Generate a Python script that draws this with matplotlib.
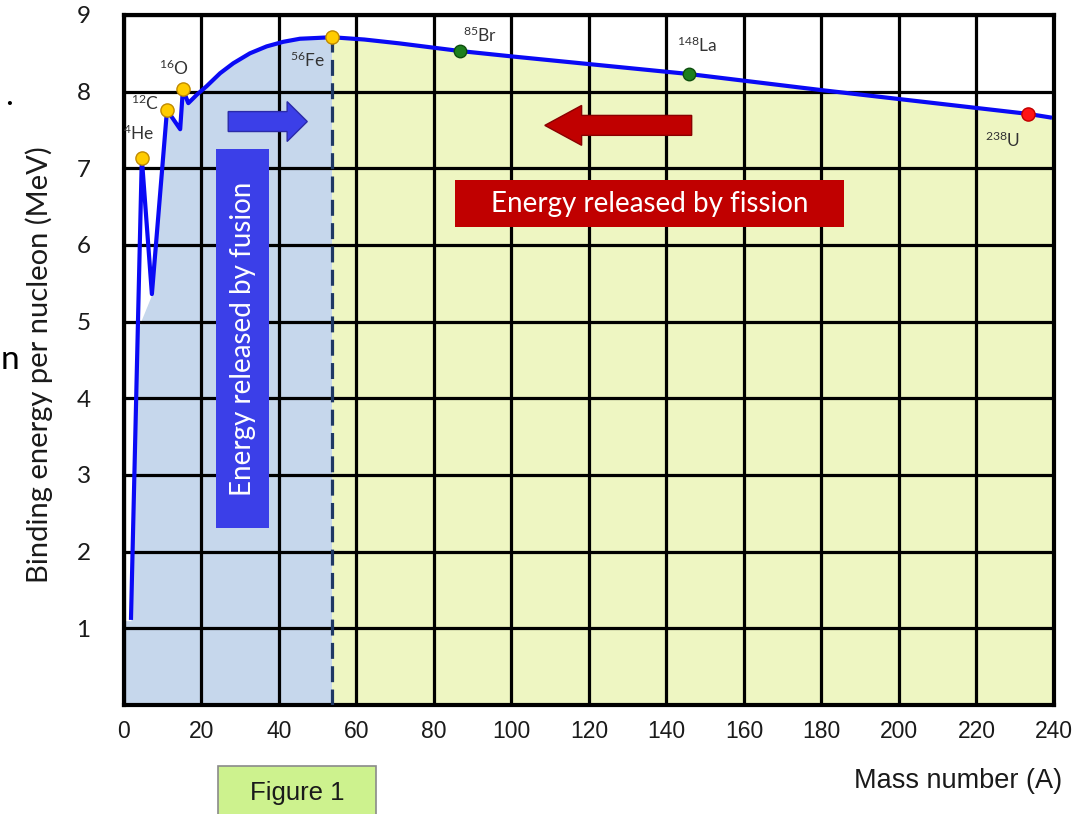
import matplotlib
matplotlib.use("Agg")
import matplotlib.pyplot as plt
from matplotlib.patches import Rectangle, FancyArrow

plt.rcParams['font.family'] = ['Lato', 'DejaVu Sans']
plt.rcParams['mathtext.fontset'] = 'custom'
plt.rcParams['mathtext.rm'] = 'Lato'
plt.rcParams['mathtext.default'] = 'regular'

# --- DATA ---
mass_number = [1.8, 4.6, 7.2, 11.1, 14.5, 15.2, 16.6, 18.8, 21.3, 24.8, 28.2, 32.5,
               36.8, 41.1, 45.4, 49.7, 53.6, 62, 71, 86.7, 100, 145.8, 180, 233.3, 239.5]
binding_energy = [1.11, 7.13, 5.36, 7.76, 7.51, 8.03, 7.85, 7.96, 8.07, 8.24, 8.37, 8.50,
                  8.59, 8.65, 8.69, 8.70, 8.71, 8.68, 8.63, 8.53, 8.46, 8.23, 8.02, 7.71, 7.66]

# outline of the shaded fusion area (the He spike is left white)
fusion_fill_x = [0, 1.8, 3.5, 7.2]
fusion_fill_y = [1.1, 1.1, 4.9, 5.36]

iron_a = 53.6
light_names = ["$^{4}$He", "$^{12}$C", "$^{16}$O", "$^{56}$Fe"]
light_a = [4.6, 11.1, 15.2, 53.6]
light_be = [7.13, 7.76, 8.03, 8.71]
light_label_xy = [(3.9, 7.46), (5.4, 7.85), (12.9, 8.31), (47.3, 8.41)]

mid_names = ["$^{85}$Br", "$^{148}$La"]
mid_a = [86.7, 145.8]
mid_be = [8.53, 8.23]
mid_label_xy = [(91.9, 8.73), (147.8, 8.61)]

heavy_names = ["$^{238}$U"]
heavy_a = [233.3]
heavy_be = [7.71]
heavy_label_xy = [(226.8, 7.36)]

x_ticks = list(range(0, 241, 20))
y_ticks = list(range(1, 10))

# --- FIGURE ---
fig = plt.figure(figsize=(10.81, 8.14), dpi=100)
ax = fig.add_axes([0.1147, 0.1339, 0.8603, 0.8477])
ax.set_xlim(0, 240)
ax.set_ylim(0, 9)

# shaded areas under the curve
i_fe = mass_number.index(iron_a)
fx = fusion_fill_x + mass_number[3:i_fe + 1]
fy = fusion_fill_y + binding_energy[3:i_fe + 1]
ax.fill_between(fx, fy, 0, color="#c6d7ec", lw=0, zorder=0.5)
ax.fill_between(mass_number[i_fe:], binding_energy[i_fe:], 0, color="#eef6c2", lw=0, zorder=0.5)

# grid over the fills
ax.set_xticks(x_ticks)
ax.set_yticks(y_ticks)
ax.set_axisbelow(False)
ax.grid(True, color="black", lw=2.3)
for s in ax.spines.values():
    s.set_linewidth(3)
    s.set_color("black")
ax.tick_params(length=0)
ax.tick_params(axis='x', pad=11, labelsize=16.5, labelcolor="#1a1a1a")
ax.tick_params(axis='y', pad=24, labelsize=17.5, labelcolor="#1a1a1a")
for lab in ax.get_xticklabels():
    lab.set_family(['Liberation Sans', 'DejaVu Sans'])

# iron boundary
ax.plot([iron_a, iron_a], [0, 8.71], color="#1f3864", lw=2.3, ls=(0, (5, 2.3)), zorder=2.7)

# curve
ax.plot(mass_number, binding_energy, color="#0a0af5", lw=3, zorder=3, solid_capstyle='butt')

ax.plot(light_a, light_be, 'o', ms=9.5, mfc="#ffcc00", mec="#c08a00", mew=1, zorder=3.5)
ax.plot(mid_a, mid_be, 'o', ms=9, mfc="#1d7f1d", mec="#0d4d0d", mew=1, zorder=3.5)
ax.plot(heavy_a, heavy_be, 'o', ms=9.5, mfc="#ff1414", mec="#c00000", mew=1, zorder=3.5)

for names, pos in [(light_names, light_label_xy), (mid_names, mid_label_xy),
                   (heavy_names, heavy_label_xy)]:
    for n, (x, y) in zip(names, pos):
        ax.text(x, y, n, ha='center', va='center', fontsize=12.5, color="#333333", zorder=5)

# fusion label and arrow
ax.add_patch(Rectangle((23.7, 2.31), 13.7, 4.94, facecolor="#3b3fe8", edgecolor="none", zorder=4))
ax.text(30.6, 4.78, "Energy released by fusion", rotation=90, ha='center', va='center',
        color="white", fontsize=20, zorder=5)
ax.add_patch(FancyArrow(26.9, 7.61, 20.4, 0, width=0.26, head_width=0.52, head_length=5.2,
                        length_includes_head=True, facecolor="#3b3fe8", edgecolor="#2a2aa8",
                        lw=1, zorder=4))

# fission label and arrow
ax.add_patch(Rectangle((85.4, 6.23), 100.4, 0.62, facecolor="#c00000", edgecolor="none", zorder=4))
ax.text(135.6, 6.54, "Energy released by fission", ha='center', va='center',
        color="white", fontsize=20, zorder=5)
ax.add_patch(FancyArrow(146.5, 7.56, -37.9, 0, width=0.26, head_width=0.52, head_length=9.5,
                        length_includes_head=True, facecolor="#c00000", edgecolor="#8a0000",
                        lw=1, zorder=4))

# axis labels
ax.set_ylabel("Binding energy per nucleon (MeV)", fontsize=21, color="#1a1a1a")
ax.yaxis.set_label_coords(-0.076, 0.493)
ax.set_xlabel("Mass number (A)", fontsize=19.5, color="#1a1a1a",
              family=['Liberation Sans', 'DejaVu Sans'], loc='right')
ax.xaxis.set_label_coords(1.009, -0.092)

# "Figure 1" box under the axis
fig.patches.append(Rectangle((0.2017, -0.02), 0.1462, 0.079, transform=fig.transFigure,
                             facecolor="#cdf28e", edgecolor="#8a8a8a", lw=1.2))
fig.text(0.2748, 0.026, "Figure 1", ha='center', va='center', fontsize=18.5,
         family=['Liberation Sans', 'DejaVu Sans'], color="#1a1a1a")

# bits of slide text at the left edge
fig.text(0.008, 0.882, ".", ha='center', va='center', fontsize=24, color="black")
fig.text(0.009, 0.558, "n", ha='center', va='center', fontsize=24, color="black")

fig.savefig("out.png", dpi=100)
